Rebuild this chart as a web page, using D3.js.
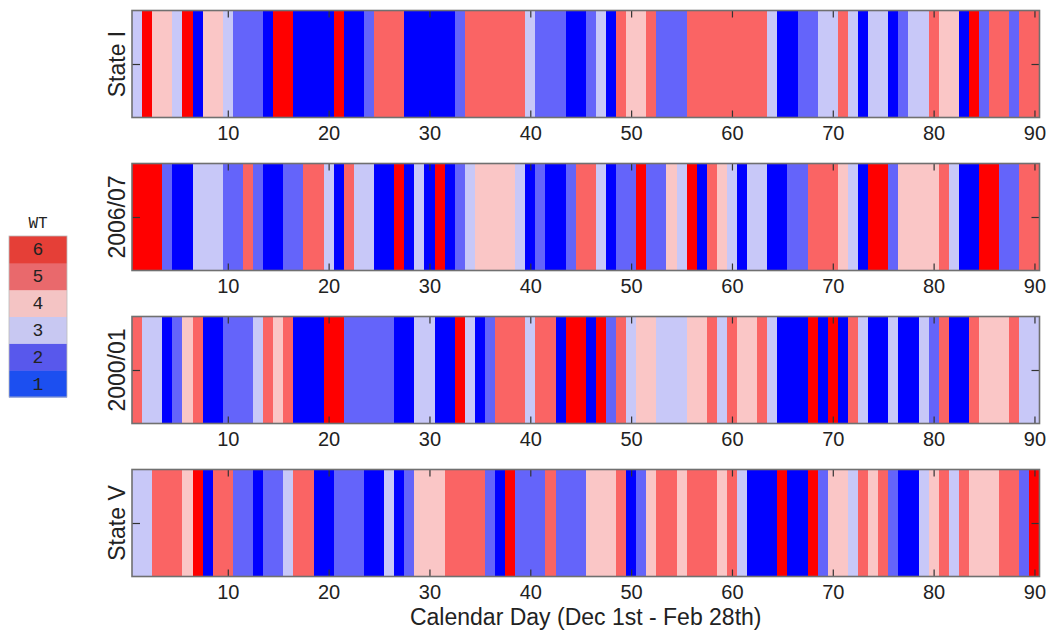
<!DOCTYPE html>
<html>
<head>
<meta charset="utf-8">
<script src="https://cdn.jsdelivr.net/npm/d3@7"></script>
<style>
  body { margin: 0; background: #fff; }
</style>
</head>
<body>
<div id="chart"></div>
<script>
// weather type per calendar day (1..90), Dec 1st - Feb 28th
const rowLabels = ["State I", "2006/07", "2000/01", "State V"];
const stateI = [3,6,4,4,3,6,1,4,4,3, 2,2,2,1,6,6,1,1,1,1, 6,1,1,2,5,5,5,1,1,1,
                1,1,2,5,5,5,5,5,5,3, 2,2,2,1,1,2,3,1,5,4, 4,5,2,2,2,5,5,5,5,5,
                5,5,5,3,1,1,2,2,3,3, 5,3,1,3,3,1,2,3,3,5, 4,4,1,6,2,5,5,2,5,5];
const winter0607 = [6,6,6,2,1,1,3,3,3,2, 2,5,2,1,1,2,2,5,5,3, 1,5,3,3,1,1,6,1,3,1,
                    6,1,2,3,4,4,4,4,3,1, 2,1,1,2,5,5,3,1,2,2, 6,2,2,4,3,6,1,5,4,3,
                    1,3,3,1,1,2,2,5,5,5, 4,3,1,6,6,2,4,4,4,4, 5,3,1,1,6,6,2,2,5,5];
const winter0001 = [5,3,3,1,2,4,5,1,1,2, 2,2,3,5,4,5,1,1,1,6, 6,2,2,2,2,2,1,1,3,3,
                    1,1,6,3,1,2,5,5,5,3, 5,5,1,6,6,1,6,2,5,3, 4,4,3,3,3,4,4,5,3,5,
                    4,4,5,3,1,1,1,6,1,6, 1,5,3,1,1,3,1,1,3,2, 5,1,1,5,4,4,4,5,3,3];
const stateV = [3,3,5,5,5,4,6,1,5,5, 2,2,1,2,2,3,5,5,1,1, 2,2,2,1,1,3,1,2,4,4,
                4,5,5,5,5,2,1,6,2,2, 2,5,2,2,2,4,4,4,5,1, 2,4,5,5,4,5,5,5,4,5,
                3,1,1,1,6,1,1,6,2,4, 4,3,5,4,5,2,1,1,3,4, 5,3,5,4,4,4,5,5,2,6];
const rows = [stateI, winter0607, winter0001, stateV];

const wtLevels = [1, 2, 3, 4, 5, 6];
const wtColors = ["#0000ff", "#6464fa", "#c8c8f8", "#fac6c6", "#fa6464", "#ff0000"];
const legendColors = ["#1c4ff0", "#5858ec", "#c8c8f2", "#f4c4c4", "#e9696c", "#e53f37"];
const xTicks = [10, 20, 30, 40, 50, 60, 70, 80, 90];

const W = 1051, H = 631;
const sans = "'Liberation Sans', Arial, Helvetica, sans-serif";
const mono = "'Liberation Mono', 'Courier New', monospace";

const svg = d3.select("#chart").append("svg")
  .attr("width", W).attr("height", H);

const x = d3.scaleLinear().domain([0.5, 90.5]).range([132, 1039.5]);
const color = d3.scaleOrdinal().domain(wtLevels).range(wtColors);
const panelH = 107;
const panelTop = i => 10.5 + i * 153;

rows.forEach((vals, i) => {
  const g = svg.append("g").attr("transform", `translate(0,${panelTop(i)})`);

  g.selectAll("rect.day")
    .data(vals.map((v, k) => ({ day: k + 1, wt: v })))
    .join("rect")
    .attr("class", "day")
    .attr("x", d => x(d.day - 0.5))
    .attr("width", d => x(d.day + 0.5) - x(d.day - 0.5))
    .attr("y", 0)
    .attr("height", panelH)
    .attr("fill", d => color(d.wt))
    .attr("shape-rendering", "crispEdges");

  const y = d3.scaleLinear().domain([0, 1]).range([panelH, 0]);

  const axes = [
    g.append("g").attr("transform", `translate(0,${panelH})`)
      .call(d3.axisBottom(x).tickValues(xTicks).tickSize(-7).tickPadding(8)),
    g.append("g")
      .call(d3.axisTop(x).tickValues(xTicks).tickFormat("").tickSize(-7)),
    g.append("g").attr("transform", `translate(${x(0.5)},0)`)
      .call(d3.axisLeft(y).tickValues([0.5]).tickFormat("").tickSize(-8)),
    g.append("g").attr("transform", `translate(${x(90.5)},0)`)
      .call(d3.axisRight(y).tickValues([0.5]).tickFormat("").tickSize(-8))
  ];
  axes.forEach(a => {
    a.select(".domain").remove();
    a.selectAll("line").attr("stroke", "#333").attr("stroke-width", 1.2);
  });
  axes[0].selectAll("text")
    .style("font-family", sans).style("font-size", "20px").attr("fill", "#222");

  // frame
  g.append("rect")
    .attr("x", x(0.5)).attr("y", 0)
    .attr("width", x(90.5) - x(0.5)).attr("height", panelH)
    .attr("fill", "none").attr("stroke", "#707070").attr("stroke-width", 1.6);

  g.append("text")
    .attr("transform", `translate(117,${panelH / 2}) rotate(-90)`)
    .attr("text-anchor", "middle")
    .attr("dominant-baseline", "central")
    .style("font-family", sans)
    .style("font-size", "23px")
    .attr("fill", "#222")
    .text(rowLabels[i]);
});

svg.append("text")
  .attr("x", x(45.5)).attr("y", 625)
  .attr("text-anchor", "middle")
  .style("font-family", sans)
  .style("font-size", "23px")
  .attr("fill", "#222")
  .text("Calendar Day (Dec 1st - Feb 28th)");

// legend
const legend = svg.append("g").attr("transform", "translate(9,236)");
const ly = d3.scaleBand().domain(wtLevels.slice().reverse()).range([0, 161]);
legend.selectAll("rect")
  .data(wtLevels)
  .join("rect")
  .attr("x", 0).attr("width", 58)
  .attr("y", d => ly(d)).attr("height", ly.bandwidth() + 0.5)
  .attr("fill", (d, k) => legendColors[k]);
legend.append("rect")
  .attr("width", 58).attr("height", 161)
  .attr("fill", "none").attr("stroke", "#bbb").attr("stroke-width", 0.8);
legend.selectAll("text.lv")
  .data(wtLevels)
  .join("text")
  .attr("class", "lv")
  .attr("x", 29).attr("y", d => ly(d) + ly.bandwidth() / 2 + 1)
  .attr("text-anchor", "middle")
  .attr("dominant-baseline", "central")
  .style("font-family", mono)
  .style("font-size", "18px")
  .attr("fill", "#222")
  .text(d => d);
legend.append("text")
  .attr("x", 29).attr("y", -8)
  .attr("text-anchor", "middle")
  .style("font-family", mono)
  .style("font-size", "16px")
  .attr("fill", "#222")
  .text("WT");
</script>
</body>
</html>
